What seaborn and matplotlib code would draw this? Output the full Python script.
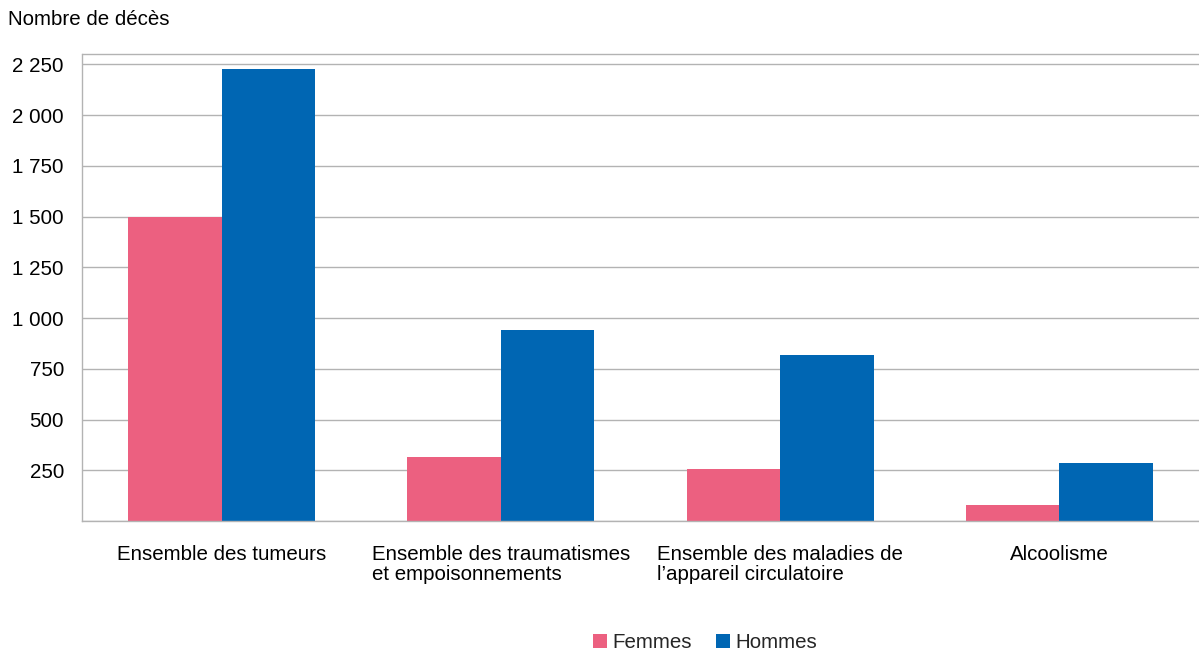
import matplotlib
matplotlib.use("Agg")
import matplotlib.pyplot as plt
import matplotlib.ticker as mticker
from matplotlib.patches import Patch
import seaborn as sns
import pandas as pd

categories = [
    "Ensemble des tumeurs",
    "Ensemble des traumatismes\net empoisonnements",
    "Ensemble des maladies de\nl\u2019appareil circulatoire",
    "Alcoolisme",
]
femmes = [1500, 315, 256, 79]
hommes = [2225, 940, 817, 285]
series = ["Femmes", "Hommes"]
colors = ["#EC6080", "#0066B3"]
y_ticks = [250, 500, 750, 1000, 1250, 1500, 1750, 2000, 2250]

df = pd.DataFrame({
    "cause": categories * 2,
    "sexe": [series[0]] * len(categories) + [series[1]] * len(categories),
    "deces": femmes + hommes,
})

sns.set_theme(style="white")
plt.rcParams["font.family"] = ["Liberation Sans", "DejaVu Sans"]
fs = 14.8

fig = plt.figure(figsize=(11.99, 6.53), dpi=100)
ax = fig.add_axes([0.0684, 0.202, 0.9316, 0.715])

sns.barplot(data=df, x="cause", y="deces", hue="sexe", order=categories,
            hue_order=series, palette=colors, width=0.67, saturation=1,
            edgecolor="none", linewidth=0, ax=ax, legend=False)

grid_col = "#b3b3b3"
ax.set_xlim(-0.5, len(categories) - 0.5)
ax.set_ylim(0, 2300)
ax.set_yticks([0] + y_ticks)
ax.yaxis.set_major_formatter(mticker.FuncFormatter(
    lambda v, p: "" if v == 0 else f"{int(v):,}".replace(",", " ")))
ax.set_axisbelow(True)
ax.yaxis.grid(True, color=grid_col, linewidth=1)
ax.xaxis.grid(False)

ax.tick_params(axis="y", length=8, width=1, color=grid_col, pad=5,
               labelsize=fs, labelcolor="#000000")
ax.tick_params(axis="x", which="major", length=0, pad=17, labelsize=fs,
               labelcolor="#000000")
ax.set_xticks([i - 0.5 for i in range(len(categories) + 1)], minor=True)
ax.tick_params(axis="x", which="minor", length=8, width=1, color=grid_col)
for lab in ax.get_xticklabels():
    lab.set_multialignment("left")
    lab.set_linespacing(1.1)

for side in ["top", "right"]:
    ax.spines[side].set_visible(False)
for side in ["left", "bottom"]:
    ax.spines[side].set_color(grid_col)
    ax.spines[side].set_linewidth(1)
ax.axhline(2300, color=grid_col, linewidth=1, clip_on=False)

ax.set_xlabel("")
ax.set_ylabel("")

fig.text(0.007, 0.97, "Nombre de d\u00e9c\u00e8s", fontsize=fs,
         ha="left", va="center", color="#000000")

handles = [Patch(facecolor=c, edgecolor="none") for c in colors]
fig.legend(handles, series, loc="center", bbox_to_anchor=(0.588, 0.016),
           ncol=2, frameon=False, fontsize=fs, handlelength=0.7,
           handleheight=0.7, handletextpad=0.25, columnspacing=1.15)

fig.savefig("out.png", dpi=100)
